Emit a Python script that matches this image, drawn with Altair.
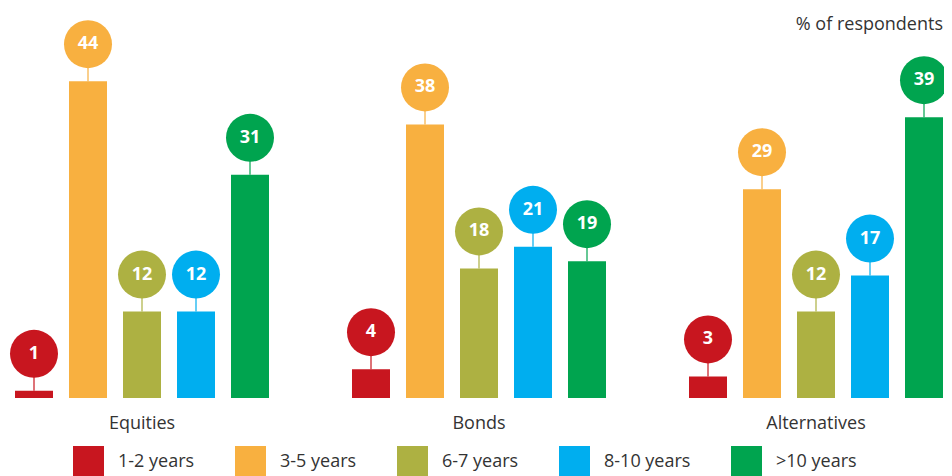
import altair as alt
import pandas as pd

categories = ["Equities", "Bonds", "Alternatives"]
periods = ["1-2 years", "3-5 years", "6-7 years", "8-10 years", ">10 years"]
colors = ["#C8161F", "#F8B040", "#ADB142", "#00AEEF", "#00A44F"]
equities = [1, 44, 12, 12, 31]
bonds = [4, 38, 18, 21, 19]
alternatives = [3, 29, 12, 17, 39]
unit_label = "% of respondents"

rows = []
for cat, vals in zip(categories, [equities, bonds, alternatives]):
    for p, v in zip(periods, vals):
        rows.append({"category": cat, "period": p, "value": v})
df = pd.DataFrame(rows)

FONT = "Open Sans"

x = alt.X("category:N", sort=categories,
          scale=alt.Scale(paddingInner=83 / 337, paddingOuter=0),
          axis=alt.Axis(title=None, domain=False, ticks=False, labelAngle=0,
                        labelFontSize=18, labelFont=FONT, labelColor="#333333",
                        labelPadding=16))
xo = alt.XOffset("period:N", sort=periods,
                 scale=alt.Scale(paddingInner=16 / 54, paddingOuter=0))
y = alt.Y("value:Q", scale=alt.Scale(domain=[0, 50], nice=False, zero=True), axis=None)
color = alt.Color("period:N", sort=periods,
                  scale=alt.Scale(domain=periods, range=colors),
                  legend=alt.Legend(title=None, orient="none", legendX=58, legendY=408,
                                    direction="horizontal", symbolType="square",
                                    symbolSize=961, symbolStrokeWidth=0, symbolOpacity=1,
                                    labelFontSize=18, labelFont=FONT, labelColor="#333333",
                                    labelOffset=14, columnPadding=40))

base = alt.Chart(df)
bars = base.mark_bar().encode(x=x, xOffset=xo, y=y, color=color)
stems = base.mark_rule(yOffset=-14, strokeWidth=1.5, opacity=0.8).encode(
    x=x, xOffset=xo, y=y, y2=alt.Y2("value:Q"), color=color)
bubbles = base.mark_circle(yOffset=-37, size=2304, opacity=1).encode(
    x=x, xOffset=xo, y=y, color=color)
labels = base.mark_text(yOffset=-37, baseline="middle", align="center", font=FONT,
                        fontSize=18, fontWeight="bold", color="white").encode(
    x=x, xOffset=xo, y=y, text="value:Q")
unit = alt.Chart(pd.DataFrame({"t": [unit_label]})).mark_text(
    align="right", baseline="alphabetic", font=FONT, fontSize=18, color="#333333"
).encode(x=alt.value(928), y=alt.value(-8), text="t:N")

chart = alt.layer(bars, stems, bubbles, labels, unit).properties(
    width=928, height=360,
    autosize=alt.AutoSizeParams(type="none"),
    padding={"left": 7, "top": 30, "right": 1, "bottom": 78},
).configure_view(stroke=None)

chart.save("out.html", embed_options={"renderer": "svg", "actions": False})
